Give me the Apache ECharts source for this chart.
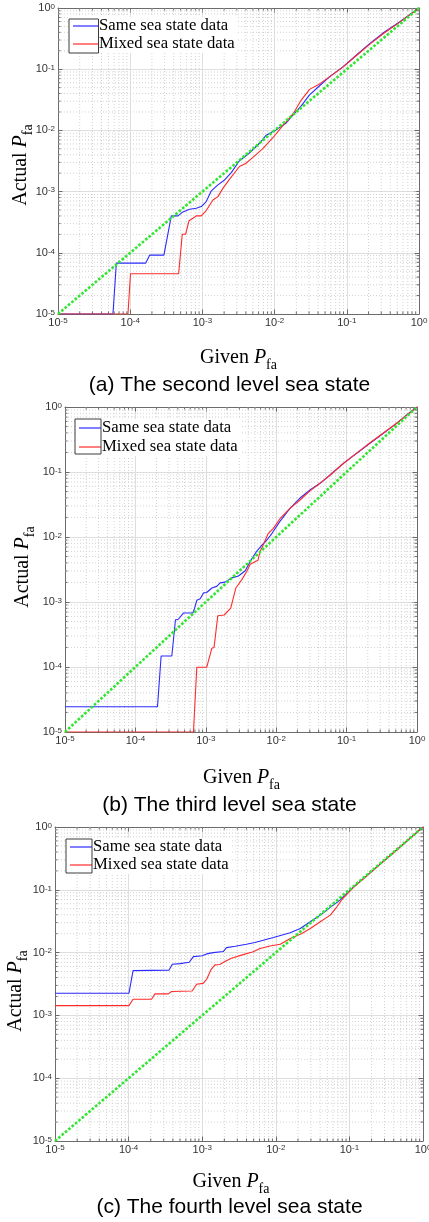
<!DOCTYPE html>
<html><head><meta charset="utf-8">
<script src="https://cdn.jsdelivr.net/npm/echarts@6/dist/echarts.min.js"></script>
<style>html,body{margin:0;padding:0;background:#fff}#c{width:429px;height:1222px}</style>
</head><body><div id="c"></div>
<script>
// ---- data (log-log axes) ----
const tickExponents = [-5, -4, -3, -2, -1, 0];
const seriesNames = ['Same sea state data', 'Mixed sea state data'];
const captions = ['(a) The second level sea state', '(b) The third level sea state', '(c) The fourth level sea state'];
const diagonal = [[1e-5, 1e-5], [1, 1]];

const sameA = [[1e-5,1e-5],[5.77e-5,1e-5],[6.43e-5,6.79e-5],[1.64e-4,6.79e-5],[1.86e-4,9.16e-5],[2.93e-4,9.16e-5],[3.71e-4,4.01e-4],[4.58e-4,4.01e-4],[5.37e-4,4.66e-4],[6.65e-4,5.15e-4],[8.22e-4,5.35e-4],[9.64e-4,5.69e-4],[1.13e-3,6.87e-4],[1.33e-3,1.03e-3],[1.64e-3,1.29e-3],[2.03e-3,1.55e-3],[2.51e-3,2.04e-3],[3.24e-3,3.16e-3],[4.47e-3,4.27e-3],[6.17e-3,6.17e-3],[7.62e-3,8.32e-3],[1.05e-2,1.02e-2],[1.45e-2,1.32e-2],[1.79e-2,1.78e-2],[2.34e-2,2.51e-2],[3.05e-2,3.80e-2],[4.2e-2,5.37e-2],[5.75e-2,7.5e-2],[8.83e-2,0.109],[0.135,0.169],[0.207,0.262],[0.333,0.406],[0.537,0.592],[1,1]];
const mixedA = [[1e-5,1e-5],[9.31e-5,1e-5],[1.01e-4,4.55e-5],[4.69e-4,4.55e-5],[5.26e-4,2.01e-4],[5.85e-4,2.01e-4],[6.52e-4,3.33e-4],[7.41e-4,3.67e-4],[8.22e-4,4.01e-4],[9.64e-4,4.01e-4],[1.13e-3,4.9e-4],[1.19e-3,5.0e-4],[1.4e-3,7.31e-4],[1.64e-3,8.28e-4],[1.92e-3,1.13e-3],[2.37e-3,1.58e-3],[3.26e-3,2.57e-3],[3.98e-3,2.88e-3],[5.01e-3,3.63e-3],[6.92e-3,5.09e-3],[9.48e-3,7.59e-3],[1.30e-2,1.20e-2],[1.79e-2,1.84e-2],[2.34e-2,3.13e-2],[3.05e-2,4.68e-2],[4.2e-2,5.75e-2],[5.75e-2,7.5e-2],[8.83e-2,0.108],[0.135,0.166],[0.207,0.254],[0.333,0.394],[0.537,0.582],[1,1]];

const sameB = [[1e-5,2.44e-5],[2.06e-4,2.44e-5],[2.32e-4,1.48e-4],[3.29e-4,1.48e-4],[3.71e-4,5.33e-4],[4.07e-4,5.43e-4],[4.81e-4,6.76e-4],[6.53e-4,6.76e-4],[6.82e-4,7.59e-4],[7.45e-4,1.06e-3],[8.32e-4,1.12e-3],[9.27e-4,1.38e-3],[1.03e-3,1.40e-3],[1.22e-3,1.64e-3],[1.43e-3,1.74e-3],[1.60e-3,1.97e-3],[1.88e-3,2.02e-3],[2.34e-3,2.35e-3],[2.91e-3,2.51e-3],[3.63e-3,3.02e-3],[4.47e-3,4.57e-3],[5.28e-3,6.03e-3],[6.31e-3,7.59e-3],[7.33e-3,8.91e-3],[8.63e-3,1.12e-2],[1.13e-2,1.74e-2],[1.57e-2,2.75e-2],[2.18e-2,3.98e-2],[3.02e-2,5.28e-2],[4.19e-2,6.70e-2],[5.81e-2,8.99e-2],[8.99e-2,0.136],[0.139,0.194],[0.215,0.276],[0.333,0.394],[0.514,0.561],[0.713,0.753],[1,1]];
const mixedB = [[1e-5,1e-5],[6.68e-4,1e-5],[7.45e-4,9.9e-5],[1.03e-3,9.9e-5],[1.22e-3,1.95e-4],[1.31e-3,2.0e-4],[1.48e-3,6.15e-4],[1.82e-3,6.31e-4],[2.26e-3,8.07e-4],[2.67e-3,1.64e-3],[3.25e-3,2.21e-3],[3.83e-3,2.98e-3],[4.27e-3,3.80e-3],[5.01e-3,4.17e-3],[5.50e-3,4.37e-3],[5.89e-3,5.94e-3],[6.56e-3,7.59e-3],[7.73e-3,1.14e-2],[9.12e-3,1.36e-2],[1.13e-2,1.91e-2],[1.57e-2,2.76e-2],[2.18e-2,3.71e-2],[3.02e-2,5.13e-2],[4.19e-2,6.70e-2],[5.81e-2,8.91e-2],[8.99e-2,0.135],[0.139,0.195],[0.215,0.282],[0.333,0.398],[0.514,0.562],[0.713,0.750],[1,1]];

const sameC = [[1e-5,2.25e-3],[1.01e-4,2.25e-3],[1.15e-4,5.16e-3],[3.53e-4,5.25e-3],[3.92e-4,6.52e-3],[5.01e-4,6.68e-3],[6.67e-4,7.01e-3],[7.59e-4,8.63e-3],[1e-3,8.91e-3],[1.15e-3,9.53e-3],[1.41e-3,1e-2],[1.93e-3,1.04e-2],[2.14e-3,1.20e-2],[2.82e-3,1.26e-2],[3.98e-3,1.36e-2],[5.21e-3,1.45e-2],[9.29e-3,1.74e-2],[1.57e-2,2.07e-2],[2.15e-2,2.42e-2],[2.94e-2,3.09e-2],[4.02e-2,3.95e-2],[5.50e-2,5.24e-2],[7.46e-2,6.84e-2],[0.113,0.110],[0.172,0.168],[0.261,0.257],[0.395,0.389],[0.600,0.596],[1,1]];
const mixedC = [[1e-5,1.43e-3],[1.01e-4,1.43e-3],[1.15e-4,1.81e-3],[2.05e-4,1.81e-3],[2.28e-4,2.20e-3],[3.47e-4,2.20e-3],[3.84e-4,2.40e-3],[7.31e-4,2.45e-3],[8.38e-4,3.13e-3],[1.03e-3,3.24e-3],[1.15e-3,3.76e-3],[1.31e-3,5.30e-3],[1.49e-3,6.37e-3],[1.74e-3,6.46e-3],[2.03e-3,7.19e-3],[2.50e-3,8.13e-3],[3.42e-3,9.12e-3],[4.94e-3,1.03e-2],[6.10e-3,1.16e-2],[8.34e-3,1.27e-2],[1.15e-2,1.36e-2],[1.57e-2,1.68e-2],[2.26e-2,2.02e-2],[2.94e-2,2.42e-2],[4.02e-2,3.09e-2],[5.50e-2,3.95e-2],[6.76e-2,5.36e-2],[7.94e-2,7.01e-2],[0.113,0.108],[0.172,0.166],[0.261,0.254],[0.395,0.385],[0.600,0.592],[1,1]];

// ---- layout & style ----
const panels = [
  {same: sameA, mixed: mixedA, grid: {left:58, top:8, width:361, height:306}, capY: 385, givenX: 238.5, givenY: 359, actX: 22, actY: 165,
   legend: {box:[69,19,29.5,34], top:17, iw:25, gap:0}},
  {same: sameB, mixed: mixedB, grid: {left:65, top:407, width:352, height:325}, capY: 805, givenX: 241.5, givenY: 779, actX: 24, actY: 567,
   legend: {box:[75,419,26,35], top:419, iw:22, gap:1}},
  {same: sameC, mixed: mixedC, grid: {left:55, top:827, width:368, height:314}, capY: 1207, givenX: 231, givenY: 1183, actX: 17, actY: 991,
   legend: {box:[66,839,26,34], top:838, iw:22, gap:0}}
];
const axisColor = '#6b6b6b';
const labelColor = '#333';
const blue = '#2b2bff', red = '#ff2b2b', green = '#2ee62e';

const labelRich = {
  b: {fontSize: 11, lineHeight: 11, verticalAlign: 'bottom', fontFamily: 'Liberation Sans', color: labelColor},
  s: {fontSize: 8, lineHeight: 8, padding: [0,0,7,0], verticalAlign: 'top', fontFamily: 'Liberation Sans', color: labelColor}
};
function fmt(v) { const e = Math.round(Math.log10(v)); return '{b|10}{s|' + e + '}'; }

const nameRich = {
  a: {fontFamily: 'Liberation Serif', fontSize: 20, lineHeight: 22, color: '#000', verticalAlign: 'top'},
  p: {fontFamily: 'Liberation Serif', fontStyle: 'italic', fontSize: 20, lineHeight: 22, color: '#000', verticalAlign: 'top'},
  f: {fontFamily: 'Liberation Serif', fontSize: 14, lineHeight: 14, padding: [10,0,0,0], color: '#000', verticalAlign: 'top'}
};

function logAxis(g, position, main) {
  return {
    type: 'log', logBase: 10, gridIndex: g, min: 1e-5, max: 1, splitNumber: 5, position: position,
    axisLine: {show: true, onZero: false, lineStyle: {color: axisColor, width: 1}},
    axisTick: {show: true, inside: true, length: 4.5, lineStyle: {color: axisColor}},
    axisLabel: main ? {show: true, formatter: fmt, rich: labelRich, margin: 3, showMinLabel: true, showMaxLabel: true, hideOverlap: false} : {show: false},
    splitLine: main ? {show: true, lineStyle: {color: '#dedede', width: 1}} : {show: false},
    minorTick: {show: false}
  };
}

const grid = [], xAxis = [], yAxis = [], series = [], legend = [];
panels.forEach((p, g) => {
  grid.push(Object.assign({containLabel: false, outerBoundsMode: 'none'}, p.grid));
  xAxis.push(logAxis(g, 'bottom', true));
  xAxis.push(logAxis(g, 'top', false));
  yAxis.push(logAxis(g, 'left', true));
  yAxis.push(logAxis(g, 'right', false));
  series.push({type: 'line', name: seriesNames[0], xAxisIndex: 2*g, yAxisIndex: 2*g, data: p.same,
    symbol: 'none', showSymbol: false, lineStyle: {color: blue, width: 1.1}, itemStyle: {color: blue}, z: 3});
  series.push({type: 'line', name: seriesNames[1], xAxisIndex: 2*g, yAxisIndex: 2*g, data: p.mixed,
    symbol: 'none', showSymbol: false, lineStyle: {color: red, width: 1.1}, itemStyle: {color: red}, z: 3});
  series.push({type: 'line', name: 'y = x', xAxisIndex: 2*g, yAxisIndex: 2*g, data: diagonal,
    symbol: 'none', showSymbol: false, lineStyle: {color: green, width: 2.6, type: [2.6, 1.8], cap: 'butt'}, z: 4});
  legend.push({
    data: seriesNames, orient: 'vertical', left: p.legend.box[0], top: p.legend.top,
    padding: [0, 3, 0, 4], itemWidth: p.legend.iw, itemHeight: 1.2, itemGap: p.legend.gap,
    icon: 'rect', itemStyle: {borderWidth: 0},
    backgroundColor: '#fff', selectedMode: false, z: 6,
    textStyle: {fontFamily: 'Liberation Serif', fontSize: 16.7, color: '#000', lineHeight: 18, padding: [0,0,0,-4]}
  });
});

const chart = echarts.init(document.getElementById('c'), null, {renderer: 'canvas', width: 429, height: 1222});
chart.setOption({animation: false, backgroundColor: '#fff', grid, xAxis, yAxis, series, legend});

// ---- decorations: minor grid, minor ticks, legend frames, captions, axis titles ----
const minorVals = [];
for (let k = -5; k <= -1; k++) for (let m = 2; m <= 9; m++) minorVals.push(m * Math.pow(10, k));
const els = [];
panels.forEach((p, g) => {
  const L = chart.convertToPixel({xAxisIndex: 2*g}, 1e-5), R = chart.convertToPixel({xAxisIndex: 2*g}, 1);
  const B = chart.convertToPixel({yAxisIndex: 2*g}, 1e-5), T = chart.convertToPixel({yAxisIndex: 2*g}, 1);
  minorVals.forEach(v => {
    const x = chart.convertToPixel({xAxisIndex: 2*g}, v);
    const y = chart.convertToPixel({yAxisIndex: 2*g}, v);
    els.push({type: 'line', silent: true, z: 1, shape: {x1: x, y1: T, x2: x, y2: B}, style: {stroke: '#d2d2d2', lineWidth: 1, lineDash: [1, 2]}});
    els.push({type: 'line', silent: true, z: 1, shape: {x1: L, y1: y, x2: R, y2: y}, style: {stroke: '#d2d2d2', lineWidth: 1, lineDash: [1, 2]}});
    const ts = {stroke: axisColor, lineWidth: 1};
    els.push({type: 'line', silent: true, z: 5, shape: {x1: x, y1: B, x2: x, y2: B - 2.5}, style: ts});
    els.push({type: 'line', silent: true, z: 5, shape: {x1: x, y1: T, x2: x, y2: T + 2.5}, style: ts});
    els.push({type: 'line', silent: true, z: 5, shape: {x1: L, y1: y, x2: L + 2.5, y2: y}, style: ts});
    els.push({type: 'line', silent: true, z: 5, shape: {x1: R, y1: y, x2: R - 2.5, y2: y}, style: ts});
  });
  const b = p.legend.box;
  els.push({type: 'rect', silent: true, z: 10, shape: {x: b[0], y: b[1], width: b[2], height: b[3]}, style: {fill: null, stroke: '#3c3c3c', lineWidth: 1}});
  els.push({type: 'text', silent: true, z: 10, x: 229.5, y: p.capY,
    style: {text: captions[g], align: 'center', verticalAlign: 'middle', fontFamily: 'Liberation Sans', fontSize: 21, fill: '#000'}});
  els.push({type: 'text', silent: true, z: 10, x: p.givenX, y: p.givenY,
    style: {text: '{a|Given }{p|P}{f|fa}', rich: nameRich, align: 'center', verticalAlign: 'middle'}});
  els.push({type: 'text', silent: true, z: 10, x: p.actX, y: p.actY, rotation: Math.PI / 2,
    style: {text: '{a|Actual }{p|P}{f|fa}', rich: nameRich, align: 'center', verticalAlign: 'middle'}});
});
chart.setOption({graphic: {elements: els}});
</script></body></html>
